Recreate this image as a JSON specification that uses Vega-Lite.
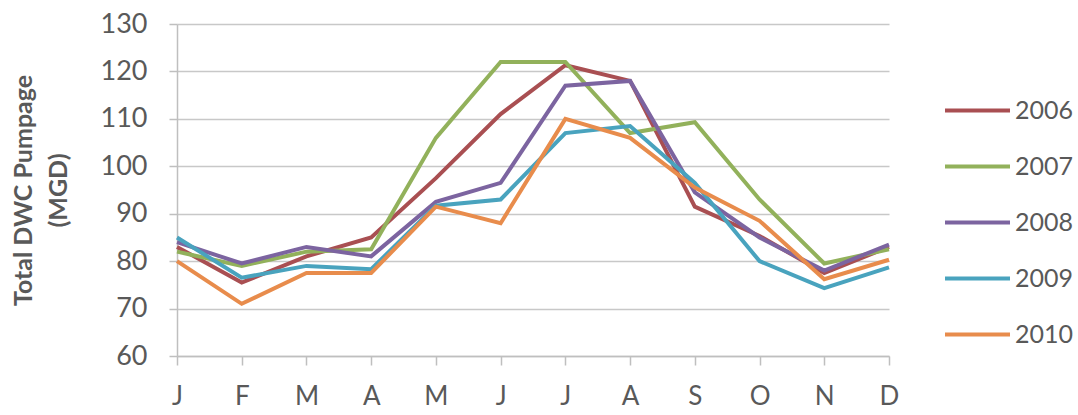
{
  "$schema": "https://vega.github.io/schema/vega-lite/v6.json",
  "width": 712,
  "height": 332,
  "autosize": "none",
  "padding": {"left": 177, "top": 24, "right": 189, "bottom": 59},
  "background": "white",
  "config": {
    "font": "Lato",
    "view": {"stroke": null},
    "axis": {"labelColor": "#595959", "titleColor": "#595959", "domainColor": "#BFBFBF", "tickColor": "#BFBFBF", "gridColor": "#C8C8C8", "domainWidth": 1.5, "tickWidth": 1.5, "gridWidth": 1.5}
  },
  "data": {
    "values": [
      {"m": 1, "year": "2006", "v": 83}, {"m": 2, "year": "2006", "v": 75.5}, {"m": 3, "year": "2006", "v": 81}, {"m": 4, "year": "2006", "v": 85}, {"m": 5, "year": "2006", "v": 97.5}, {"m": 6, "year": "2006", "v": 111}, {"m": 7, "year": "2006", "v": 121.3}, {"m": 8, "year": "2006", "v": 118}, {"m": 9, "year": "2006", "v": 91.5}, {"m": 10, "year": "2006", "v": 85.3}, {"m": 11, "year": "2006", "v": 77.5}, {"m": 12, "year": "2006", "v": 83},
      {"m": 1, "year": "2007", "v": 82}, {"m": 2, "year": "2007", "v": 79}, {"m": 3, "year": "2007", "v": 82}, {"m": 4, "year": "2007", "v": 82.5}, {"m": 5, "year": "2007", "v": 106}, {"m": 6, "year": "2007", "v": 122}, {"m": 7, "year": "2007", "v": 122}, {"m": 8, "year": "2007", "v": 107}, {"m": 9, "year": "2007", "v": 109.3}, {"m": 10, "year": "2007", "v": 93}, {"m": 11, "year": "2007", "v": 79.5}, {"m": 12, "year": "2007", "v": 82.5},
      {"m": 1, "year": "2008", "v": 84}, {"m": 2, "year": "2008", "v": 79.5}, {"m": 3, "year": "2008", "v": 83}, {"m": 4, "year": "2008", "v": 81}, {"m": 5, "year": "2008", "v": 92.5}, {"m": 6, "year": "2008", "v": 96.5}, {"m": 7, "year": "2008", "v": 117}, {"m": 8, "year": "2008", "v": 118}, {"m": 9, "year": "2008", "v": 94.5}, {"m": 10, "year": "2008", "v": 85}, {"m": 11, "year": "2008", "v": 78}, {"m": 12, "year": "2008", "v": 83.5},
      {"m": 1, "year": "2009", "v": 85}, {"m": 2, "year": "2009", "v": 76.5}, {"m": 3, "year": "2009", "v": 79}, {"m": 4, "year": "2009", "v": 78.3}, {"m": 5, "year": "2009", "v": 91.7}, {"m": 6, "year": "2009", "v": 93}, {"m": 7, "year": "2009", "v": 107}, {"m": 8, "year": "2009", "v": 108.5}, {"m": 9, "year": "2009", "v": 96.5}, {"m": 10, "year": "2009", "v": 80}, {"m": 11, "year": "2009", "v": 74.3}, {"m": 12, "year": "2009", "v": 78.7},
      {"m": 1, "year": "2010", "v": 80}, {"m": 2, "year": "2010", "v": 71}, {"m": 3, "year": "2010", "v": 77.5}, {"m": 4, "year": "2010", "v": 77.5}, {"m": 5, "year": "2010", "v": 91.5}, {"m": 6, "year": "2010", "v": 88}, {"m": 7, "year": "2010", "v": 110}, {"m": 8, "year": "2010", "v": 106}, {"m": 9, "year": "2010", "v": 95.5}, {"m": 10, "year": "2010", "v": 88.5}, {"m": 11, "year": "2010", "v": 76.2}, {"m": 12, "year": "2010", "v": 80.3}
    ]
  },
  "mark": {"type": "line", "strokeWidth": 4, "strokeJoin": "miter"},
  "encoding": {
    "x": {
      "field": "m", "type": "quantitative",
      "scale": {"domain": [1, 12], "nice": false, "zero": false},
      "axis": {
        "values": [1, 2, 3, 4, 5, 6, 7, 8, 9, 10, 11, 12],
        "labelExpr": "['J','F','M','A','M','J','J','A','S','O','N','D'][datum.value - 1]",
        "title": null, "grid": false, "tickSize": 9, "labelFontSize": 26, "labelPadding": 18, "labelFlush": false, "labelOverlap": false
      }
    },
    "y": {
      "field": "v", "type": "quantitative",
      "scale": {"domain": [60, 130], "nice": false, "zero": false},
      "axis": {
        "values": [60, 70, 80, 90, 100, 110, 120, 130],
        "title": ["Total DWC Pumpage", "(MGD)"],
        "titleFontSize": 25, "titleFontWeight": "bold", "titleLineHeight": 35,
        "titleAngle": -90, "titleAlign": "center", "titleBaseline": "top",
        "titleX": -166, "titleY": 166,
        "tickSize": 8, "labelFontSize": 27, "labelPadding": 22, "labelFlush": false, "labelOverlap": false
      }
    },
    "color": {
      "field": "year", "type": "nominal",
      "scale": {"domain": ["2006", "2007", "2008", "2009", "2010"], "range": ["#A94F52", "#92B15B", "#7C64A0", "#49A3BE", "#E88C4C"]},
      "legend": {
        "title": null, "orient": "none", "legendX": 766, "legendY": 52,
        "symbolType": "stroke", "symbolSize": 4225, "symbolStrokeWidth": 4,
        "labelFontSize": 25, "labelColor": "#595959", "labelOffset": 3, "rowPadding": 8
      }
    }
  }
}
